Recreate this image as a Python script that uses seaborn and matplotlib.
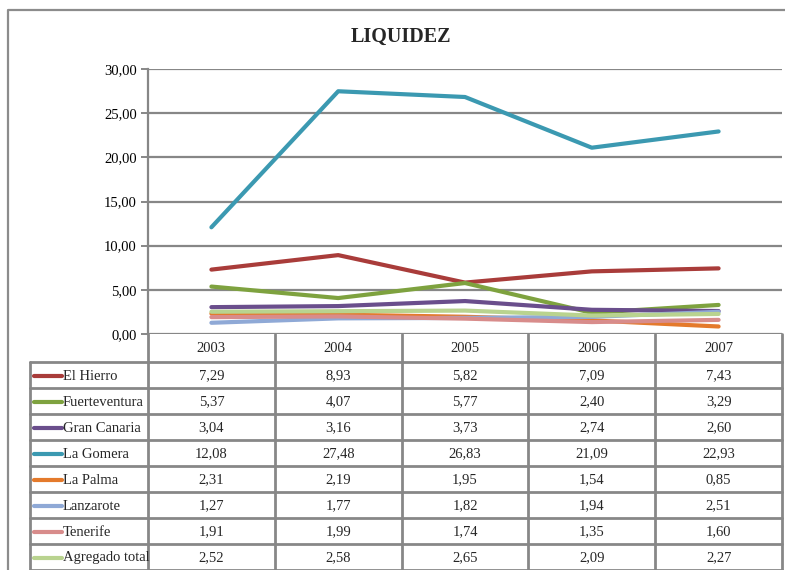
import matplotlib
matplotlib.use("Agg")
import matplotlib.pyplot as plt
import seaborn as sns
import pandas as pd
import numpy as np

years = ["2003", "2004", "2005", "2006", "2007"]
series_names = ["El Hierro", "Fuerteventura", "Gran Canaria", "La Gomera",
                "La Palma", "Lanzarote", "Tenerife", "Agregado total"]
el_hierro = [7.29, 8.93, 5.82, 7.09, 7.43]
fuerteventura = [5.37, 4.07, 5.77, 2.40, 3.29]
gran_canaria = [3.04, 3.16, 3.73, 2.74, 2.60]
la_gomera = [12.08, 27.48, 26.83, 21.09, 22.93]
la_palma = [2.31, 2.19, 1.95, 1.54, 0.85]
lanzarote = [1.27, 1.77, 1.82, 1.94, 2.51]
tenerife = [1.91, 1.99, 1.74, 1.35, 1.60]
agregado = [2.52, 2.58, 2.65, 2.09, 2.27]
yticks = [0, 5, 10, 15, 20, 25, 30]
title = "LIQUIDEZ"

colors = ["#A93C3A", "#7EA23F", "#6A4E8C", "#3B99B1",
          "#E47A2C", "#8FA9D6", "#D88C8B", "#B9D38F"]

values = [el_hierro, fuerteventura, gran_canaria, la_gomera,
          la_palma, lanzarote, tenerife, agregado]
rows = []
for name, vals in zip(series_names, values):
    for i, (y, v) in enumerate(zip(years, vals)):
        rows.append({"serie": name, "idx": i, "year": y, "value": v})
df = pd.DataFrame(rows)

sns.set_theme(style="white")
plt.rcParams["font.family"] = ["Liberation Serif", "DejaVu Serif"]

W, H = 785, 570
fig = plt.figure(figsize=(W / 100, H / 100), dpi=100)
fig.patch.set_facecolor("white")

L, R, T, B = 148, 782, 69, 334
ax = fig.add_axes([L / W, 1 - B / H, (R - L) / W, (B - T) / H])
sns.lineplot(data=df, x="idx", y="value", hue="serie", hue_order=series_names,
             palette=colors, linewidth=3.0, ax=ax, legend=False,
             solid_capstyle="round")
ax.set_xlim(-0.5, len(years) - 0.5)
ax.set_ylim(0, 30)
ax.set_yticks(yticks)
ax.set_yticklabels([f"{v:.2f}".replace(".", ",") for v in yticks], fontsize=10.5)
ax.set_xticks([])
ax.set_xlabel("")
ax.set_ylabel("")
grid_c = "#878787"
ax.grid(False)
for v in yticks:
    ax.axhline(v, color=grid_c, lw=1.6, zorder=0)
for s in ["top", "right", "bottom"]:
    ax.spines[s].set_visible(False)
ax.spines["left"].set_color(grid_c)
ax.spines["left"].set_linewidth(1.6)
ax.tick_params(axis="y", left=True, length=5, width=1.4, color=grid_c, pad=3,
               labelcolor="black")
ax.set_facecolor("white")

# overlay in pixel coordinates for title, table and border
ov = fig.add_axes([0, 0, 1, 1], zorder=-1)
ov.set_xlim(0, W)
ov.set_ylim(H, 0)
ov.axis("off")
ov.patch.set_alpha(0)

ov2 = fig.add_axes([0, 0, 1, 1], zorder=5)
ov2.set_xlim(0, W)
ov2.set_ylim(H, 0)
ov2.axis("off")
ov2.patch.set_alpha(0)

# outer border
ov.plot([8, 8, 800], [600, 10, 10], color="#8C8C8C", lw=1.6)

ov2.text(401, 37, title, ha="center", va="center", fontsize=14.5,
         fontweight="bold")

fig.canvas.draw()
col_edges = [ax.transData.transform((i - 0.5, 0))[0] for i in range(len(years) + 1)]
col_centers = [ax.transData.transform((i, 0))[0] for i in range(len(years))]

row_h = 26
hdr_top, hdr_bot = B, 362
lab_left = 30
tc = "#878787"
lw = 2.0
# header row
for x in col_edges:
    ov2.plot([x, x], [hdr_top, hdr_bot], color=tc, lw=lw)
for x, y in zip(col_centers, years):
    ov2.text(x, (hdr_top + hdr_bot) / 2 + 1, y, ha="center", va="center", fontsize=10.5)
# body
n = len(series_names)
bot = hdr_bot + n * row_h
for k in range(n + 1):
    yy = hdr_bot + k * row_h
    ov2.plot([lab_left, col_edges[-1]], [yy, yy], color=tc, lw=lw)
for x in [lab_left] + col_edges:
    ov2.plot([x, x], [hdr_bot, bot], color=tc, lw=lw)
for k, (name, vals, c) in enumerate(zip(series_names, values, colors)):
    yc = hdr_bot + k * row_h + row_h / 2 + 1
    ov2.plot([34, 62], [yc, yc], color=c, lw=3.0, solid_capstyle="round")
    ov2.text(63, yc, name, ha="left", va="center", fontsize=10.5)
    for x, v in zip(col_centers, vals):
        ov2.text(x, yc, f"{v:.2f}".replace(".", ","), ha="center", va="center",
                 fontsize=10.5)

fig.savefig("out.png", dpi=100)
